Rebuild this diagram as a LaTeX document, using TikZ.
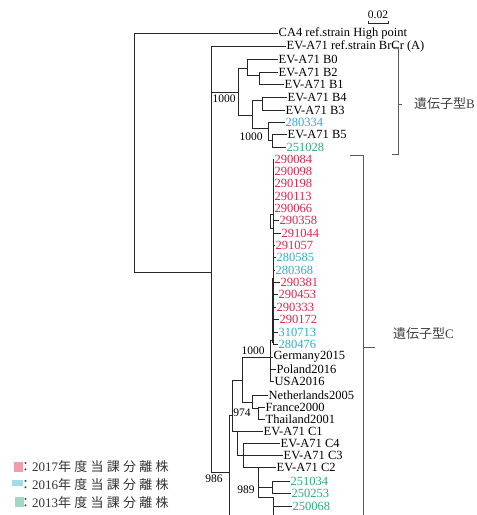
\documentclass[tikz,border=0pt]{standalone}
\usepackage{fontspec}
\setmainfont{Liberation Serif}
\newfontfamily\jpfont{Noto Sans CJK JP}

\definecolor{isored}{RGB}{225,35,75}
\definecolor{isocyan}{RGB}{45,175,200}
\definecolor{isogreen}{RGB}{45,170,125}

\newcommand*{\leaf}[5]{\node[leaf,text=#4] (#1) at (#2,#3) {#5};}
\newcommand*{\boot}[4]{\node[boot] (#1) at (#2,#3) {#4};}

\begin{document}
\begin{tikzpicture}[x=1pt,y=-1pt,
	leaf/.style={anchor=west,inner sep=0.5pt,font=\fontsize{12.5}{13}\selectfont},
	boot/.style={inner sep=0pt,font=\fontsize{11.5}{12}\selectfont},
	branch/.style={draw=black!85,line width=0.65pt},
	bracket/.style={draw=black!65,line width=0.7pt},
	legend/.style={anchor=west,inner sep=0pt,text=black!80,font=\fontsize{13}{14}\selectfont}]

	\useasboundingbox (0,0) rectangle (477,515);

	% leaves
	\leaf{ca4}{278}{33}{black}{CA4 ref.strain High point}
	\leaf{brcr}{286}{46}{black}{EV-A71 ref.strain BrCr (A)}
	\leaf{b0}{278}{59}{black}{EV-A71 B0}
	\leaf{b2}{278}{72}{black}{EV-A71 B2}
	\leaf{b1}{284}{84}{black}{EV-A71 B1}
	\leaf{b4}{287}{97}{black}{EV-A71 B4}
	\leaf{b3}{285}{110}{black}{EV-A71 B3}
	\leaf{s280334}{285}{122}{isocyan}{280334}
	\leaf{b5}{287}{134}{black}{EV-A71 B5}
	\leaf{s251028}{286}{147}{isogreen}{251028}
	\leaf{s290084}{274}{159}{isored}{290084}
	\leaf{s290098}{274}{171}{isored}{290098}
	\leaf{s290198}{274}{183}{isored}{290198}
	\leaf{s290113}{274}{196}{isored}{290113}
	\leaf{s290066}{274}{208}{isored}{290066}
	\leaf{s290358}{279}{220}{isored}{290358}
	\leaf{s291044}{281}{233}{isored}{291044}
	\leaf{s291057}{275}{245}{isored}{291057}
	\leaf{s280585}{276}{257}{isocyan}{280585}
	\leaf{s280368}{275}{270}{isocyan}{280368}
	\leaf{s290381}{280}{282}{isored}{290381}
	\leaf{s290453}{278}{294}{isored}{290453}
	\leaf{s290333}{276}{307}{isored}{290333}
	\leaf{s290172}{279}{319}{isored}{290172}
	\leaf{s310713}{278}{332}{isocyan}{310713}
	\leaf{s280476}{278}{344}{isocyan}{280476}
	\leaf{germany}{273}{357}{black}{Germany2015}
	\leaf{poland}{276}{369}{black}{Poland2016}
	\leaf{usa}{274}{381}{black}{USA2016}
	\leaf{neth}{268}{395}{black}{Netherlands2005}
	\leaf{france}{265}{407}{black}{France2000}
	\leaf{thai}{265}{419}{black}{Thailand2001}
	\leaf{c1}{263}{431}{black}{EV-A71 C1}
	\leaf{c4}{280}{443}{black}{EV-A71 C4}
	\leaf{c3}{283}{455}{black}{EV-A71 C3}
	\leaf{c2}{276}{467}{black}{EV-A71 C2}
	\leaf{s251034}{290}{481}{isogreen}{251034}
	\leaf{s250253}{291}{493}{isogreen}{250253}
	\leaf{s250068}{292}{506}{isogreen}{250068}

	% bootstrap values
	\boot{bsB}{224}{99}{1000}
	\boot{bsB5}{251}{137}{1000}
	\boot{bsG}{253}{351}{1000}
	\boot{bs974}{242}{413}{974}
	\boot{bs986}{214}{479}{986}
	\boot{bs989}{246}{490}{989}

	% root and ingroup
	\draw[branch] (ca4.west) -- (134,33) -- (134,272) -- (211,272);
	\draw[branch] (brcr.west) -| (211,472) -- (229,472);

	% genotype B
	\draw[branch] (211,92) -- (238,92);
	\draw[branch] (238,68) -- (238,115);
	\draw[branch] (238,68) -- (247,68);
	\draw[branch] (b0.west) -| (247,75) -- (259,75);
	\draw[branch] (b2.west) -| (259,84) -- (b1.west);
	\draw[branch] (238,115) -- (252,115);
	\draw[branch] (252,100) -- (252,128) -- (268,128);
	\draw[branch] (252,100) -- (262,100);
	\draw[branch] (b4.west) -| (262,110) -- (b3.west);
	\draw[branch] (s280334.west) -| (268,140) -- (272,140);
	\draw[branch] (b5.west) -| (272,147) -- (s251028.west);

	% genotype C
	\draw[branch] (229,415) -- (229,515);
	\draw[branch] (229,415) -- (232,415);
	\draw[branch] (242,380) -| (232,431) -- (c1.west);
	\draw[branch] (germany.west) -| (242,402) -- (252,402);
	\draw[branch] (273,340) -- (270,340) -- (270,369) -- (poland.west);
	\draw[branch] (270,369) |- (usa.west);
	\draw[branch] (273,159) -- (273,345);
	\draw[branch,line width=1.3pt] (273,278) -- (273,343);
	\foreach \s in {s290084,s290098,s290198,s290113,s290066,s291057,s280585,s280368,
		s290381,s290453,s290333,s290172,s310713,s280476}
		\draw[branch] (273,0 |- \s.west) -- (\s.west);
	\draw[branch] (273,214) -- (270,214) -- (270,228) -- (273,228);
	\draw[branch] (273,220) -- (s290358.west);
	\draw[branch] (273,233) -- (s291044.west);
	\draw[branch] (neth.west) -| (252,408) -- (258,408);
	\draw[branch] (france.west) -| (258,419) -- (thai.west);
	\draw[branch] (237,431) -- (237,455) -- (c3.west);
	\draw[branch] (c4.west) -| (243,467) -- (258,467);
	\draw[branch] (c2.west) -| (258,497) -- (273,497) -- (273,515);
	\draw[branch] (258,487) -- (272,487);
	\draw[branch] (s251034.west) -| (272,493) -- (s250253.west);
	\draw[branch] (273,506) -- (s250068.west);

	% scale bar
	\node[boot] (scale) at (378,15) {0.02};
	\draw[branch] (368,21) -- (368,23) -- (388,23) -- (388,21);

	% genotype brackets
	\draw[bracket] (392,47) -- (398,47) -- (398,154) -- (392,154);
	\draw[bracket] (398,104) -- (402,104);
	\node[legend,text=black!75] (genB) at (414,104) {{\jpfont 遺伝子型}B};
	\draw[bracket] (350,155) -- (363,155) -- (363,515);
	\draw[bracket] (363,347) -- (375,347);
	\node[legend,text=black!75] (genC) at (393,334) {{\jpfont 遺伝子型}C};

	% legend
	\fill[isored!45] (14,462) rectangle (23,472);
	\fill[isocyan!45] (12,480) rectangle (23,486);
	\fill[isogreen!45] (15,497) rectangle (24,507);
	\node[legend] (lg17) at (19,467) {{\jpfont ：}2017{\jpfont\addfontfeature{LetterSpace=25}年度当課分離株}};
	\node[legend] (lg16) at (19,485) {{\jpfont ：}2016{\jpfont\addfontfeature{LetterSpace=25}年度当課分離株}};
	\node[legend] (lg13) at (19,503) {{\jpfont ：}2013{\jpfont\addfontfeature{LetterSpace=25}年度当課分離株}};

\end{tikzpicture}
\end{document}
